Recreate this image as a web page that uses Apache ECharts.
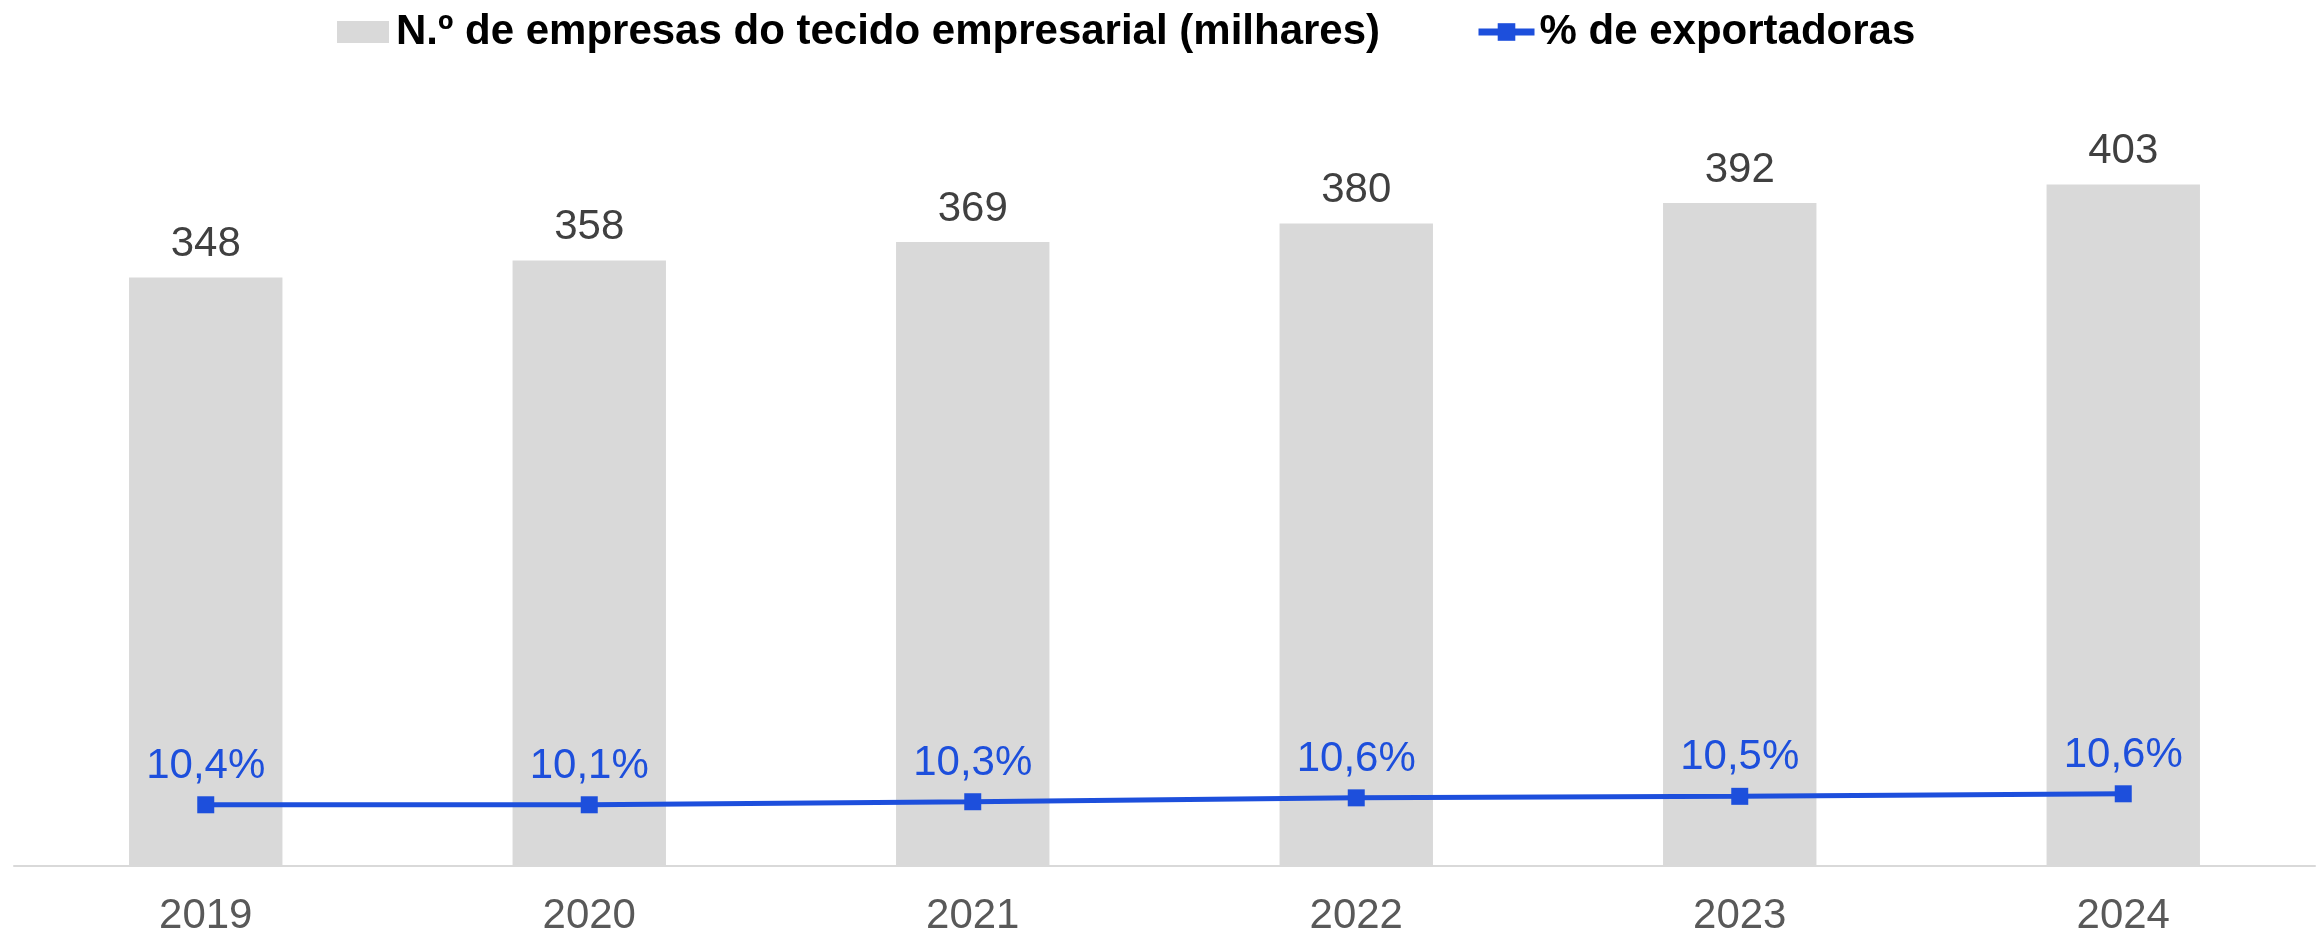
<!DOCTYPE html>
<html>
<head>
<meta charset="utf-8">
<script src="https://cdn.jsdelivr.net/npm/echarts@6/dist/echarts.min.js"></script>
<style>
  html, body { margin: 0; padding: 0; background: #fff; }
  #chart { width: 2318px; height: 937px; }
</style>
</head>
<body>
<div id="chart"></div>
<script>
// years on the x axis
const years = ['2019', '2020', '2021', '2022', '2023', '2024'];
// number of companies (thousands)
const empresas = [348, 358, 369, 380, 392, 403];
// exporting companies (thousands) - the height the line is drawn at
const exportadoras = [36.2, 36.2, 38.0, 40.3, 41.2, 42.7];
// share of exporters, shown as the line labels
const pctExport = ['10,4%', '10,1%', '10,3%', '10,6%', '10,5%', '10,6%'];

const barName = 'N.º de empresas do tecido empresarial (milhares)';
const lineName = '% de exportadoras';
const blue = '#1d4fdc';
const font = '"Liberation Sans", Arial, sans-serif';

const chart = echarts.init(document.getElementById('chart'));
chart.setOption({
  animation: false,
  textStyle: { fontFamily: font },
  legend: [
    {
      data: [barName],
      left: 332,
      top: 6,
      itemWidth: 52,
      itemHeight: 22,
      icon: 'rect',
      textStyle: { fontSize: 42, fontWeight: 'bold', color: '#000', fontFamily: font, padding: [0, 0, 0, 2] }
    },
    {
      data: [lineName],
      left: 1470,
      top: 6,
      itemWidth: 56,
      itemHeight: 22,
      lineStyle: { width: 7 },
      textStyle: { fontSize: 42, fontWeight: 'bold', color: '#000', fontFamily: font }
    }
  ],
  grid: { left: 14, right: 3, top: 105, bottom: 68 },
  xAxis: {
    type: 'category',
    data: years,
    axisLine: { lineStyle: { color: '#d9d9d9', width: 2 } },
    axisTick: { show: false },
    axisLabel: { fontSize: 42, color: '#595959', margin: 29, fontFamily: font }
  },
  yAxis: {
    type: 'value',
    min: 0,
    max: 450,
    show: false,
    splitLine: { show: false }
  },
  series: [
    {
      name: barName,
      type: 'bar',
      data: empresas,
      barWidth: '40%',
      itemStyle: { color: '#d9d9d9' },
      label: {
        show: true,
        position: 'top',
        distance: 12,
        fontSize: 42,
        color: '#404040',
        fontFamily: font
      }
    },
    {
      name: lineName,
      type: 'line',
      data: exportadoras,
      symbol: 'rect',
      symbolSize: 17,
      lineStyle: { color: blue, width: 5 },
      itemStyle: { color: blue, borderRadius: 2 },
      label: {
        show: true,
        position: 'top',
        distance: 9,
        fontSize: 42,
        color: blue,
        fontFamily: font,
        formatter: p => pctExport[p.dataIndex]
      }
    }
  ]
});
</script>
</body>
</html>
